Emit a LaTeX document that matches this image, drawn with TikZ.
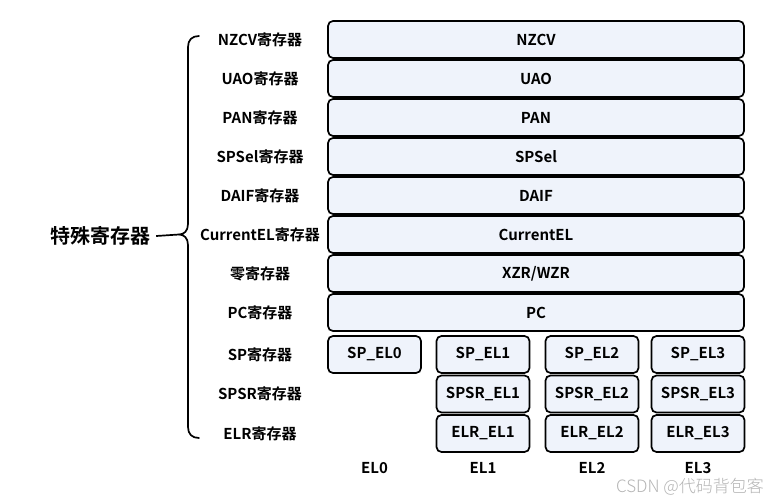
\documentclass[tikz,border=0pt]{standalone}
\usepackage{fontspec}
\setmainfont{Noto Sans CJK SC}[UprightFont={* Bold}]
\newfontfamily\wmfont{Noto Sans CJK SC}[UprightFont={* Light}]
\definecolor{boxfill}{HTML}{EFF3FB}
\definecolor{wmgray}{HTML}{B4B4B4}
\begin{document}
\begin{tikzpicture}[x=1pt,y=-1pt,
  reg/.style={draw=black,line width=1.7pt,fill=boxfill,rounded corners=5pt,
    minimum height=37pt,inner sep=0pt,font=\fontsize{15}{15}\selectfont,anchor=center},
  wide/.style={reg,minimum width=416pt},
  small/.style={reg,minimum width=93pt},
  lbl/.style={font=\fontsize{15}{15}\selectfont,inner sep=0pt,anchor=center},
  brace/.style={line width=1.7pt,line cap=round,line join=round}]
\useasboundingbox (0,0) rectangle (766,500);
% wide boxes
\node[wide] (nzcv) at (536,39.5) {NZCV};
\node[wide] (uao) at (536,78.5) {UAO};
\node[wide] (pan) at (536,117.5) {PAN};
\node[wide] (spsel) at (536,156.5) {SPSel};
\node[wide] (daif) at (536,195.5) {DAIF};
\node[wide] (curel) at (536,234.5) {CurrentEL};
\node[wide] (xzr) at (536,273.5) {XZR/WZR};
\node[wide] (pc) at (536,312.5) {PC};
% small boxes
\node[small] (sp0) at (374.5,354.5) {SP\_EL0};
\node[small] (sp1) at (483,354.5) {SP\_EL1};
\node[small] (sp2) at (592,354.5) {SP\_EL2};
\node[small] (sp3) at (698,354.5) {SP\_EL3};
\node[small] (spsr1) at (483,394) {SPSR\_EL1};
\node[small] (spsr2) at (592,394) {SPSR\_EL2};
\node[small] (spsr3) at (698,394) {SPSR\_EL3};
\node[small] (elr1) at (483,433.5) {ELR\_EL1};
\node[small] (elr2) at (592,433.5) {ELR\_EL2};
\node[small] (elr3) at (698,433.5) {ELR\_EL3};
% left labels
\node[lbl] (l1) at (260,39.5) {NZCV寄存器};
\node[lbl] (l2) at (260,78.5) {UAO寄存器};
\node[lbl] (l3) at (260,117.5) {PAN寄存器};
\node[lbl] (l4) at (260,156.5) {SPSel寄存器};
\node[lbl] (l5) at (260,195.5) {DAIF寄存器};
\node[lbl] (l6) at (260,234.5) {CurrentEL寄存器};
\node[lbl] (l7) at (260,273.5) {零寄存器};
\node[lbl] (l8) at (260,312.5) {PC寄存器};
\node[lbl] (l9) at (260,354.5) {SP寄存器};
\node[lbl] (l10) at (260,394) {SPSR寄存器};
\node[lbl] (l11) at (260,433.5) {ELR寄存器};
% EL labels
\node[lbl] (e0) at (374.5,468) {EL0};
\node[lbl] (e1) at (483,468) {EL1};
\node[lbl] (e2) at (592,468) {EL2};
\node[lbl] (e3) at (698,468) {EL3};
% title and brace
\node[inner sep=0pt,font=\fontsize{20}{20}\selectfont] (title) at (100,236) {特殊寄存器};
\coordinate (tip) at (179,234.5);
\draw[brace] (199,36) .. controls (192,36) and (188,40) .. (188,47)
  -- (188,224) .. controls (188,231) and (184,234.5) .. (tip)
  .. controls (184,234.5) and (188,238) .. (188,245)
  -- (188,427) .. controls (188,434) and (192,438) .. (199,438);
\draw[line width=1.7pt] ([xshift=6pt]title.east) -- (tip);
% watermark
\node[anchor=east,inner sep=0pt,text=wmgray,font=\wmfont\fontsize{17}{17}\selectfont] (wm) at (764,487) {CSDN @代码背包客};
\end{tikzpicture}
\end{document}
